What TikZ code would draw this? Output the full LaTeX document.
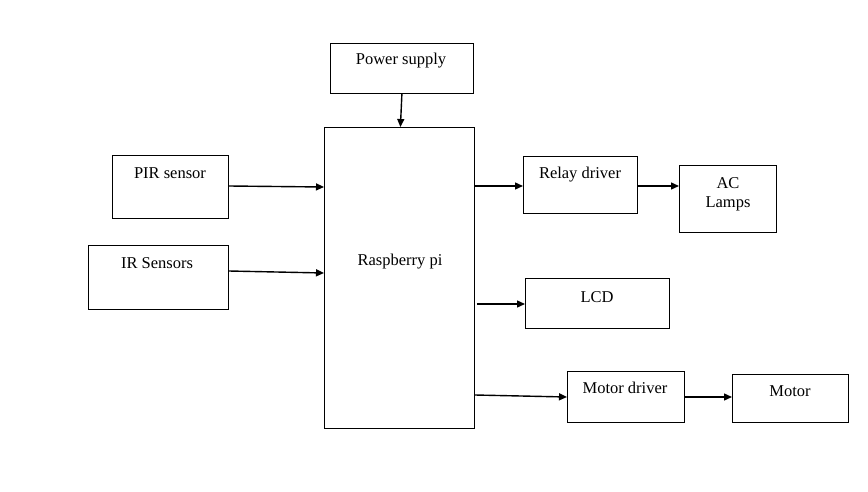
\documentclass[tikz,border=0pt]{standalone}
\usepackage{fontspec}
\setmainfont{Liberation Serif}
\usetikzlibrary{arrows.meta}
\begin{document}
\begin{tikzpicture}[x=1pt,y=-1pt,
  blk/.style={draw,line width=0.8pt,inner sep=0pt,anchor=north west},
  txt/.style={font=\fontsize{16.5}{19}\selectfont,align=center},
  arr/.style={line width=1.4pt,-{Triangle[length=8pt,width=7pt]}}]
\useasboundingbox (0,0) rectangle (868,492);
\node[blk,minimum width=143pt,minimum height=50pt] (ps) at (330,43) {};
\node[txt] at (401,61) {Power supply};
\node[blk,minimum width=150pt,minimum height=301pt] (rp) at (324,127) {};
\node[txt] at (400,262) {Raspberry pi};
\node[blk,minimum width=116pt,minimum height=63pt] (pir) at (112,155) {};
\node[txt] at (170,173) {PIR sensor};
\node[blk,minimum width=140pt,minimum height=64pt] (ir) at (88,245) {};
\node[txt] at (157,263) {IR Sensors};
\node[blk,minimum width=114pt,minimum height=57pt] (rd) at (523,156) {};
\node[txt] at (580,175) {Relay driver};
\node[blk,minimum width=97pt,minimum height=67pt] (ac) at (679,165) {};
\node[txt] at (728,194) {AC\\Lamps};
\node[blk,minimum width=144pt,minimum height=50pt] (lcd) at (525,278) {};
\node[txt] at (597,297) {LCD};
\node[blk,minimum width=117pt,minimum height=51pt] (md) at (567,371) {};
\node[txt] at (625,388) {Motor driver};
\node[blk,minimum width=116pt,minimum height=48pt] (mo) at (732,374) {};
\node[txt] at (790,391) {Motor};
\draw[arr] (ps.south) -- ([xshift=1pt]rp.north);
\draw[arr] (pir.north east |- 0,186) -- (rp.north west |- 0,187);
\draw[arr] (ir.north east |- 0,271) -- (rp.north west |- 0,273);
\draw[arr] (rp.north east |- 0,186) -- (rd.north west |- 0,186);
\draw[arr] (rd.north east |- 0,186) -- (ac.north west |- 0,186);
\draw[arr] ([xshift=2pt]rp.north east |- 0,304) -- (lcd.north west |- 0,304);
\draw[arr] (rp.north east |- 0,395) -- (md.north west |- 0,397);
\draw[arr] (md.north east |- 0,397) -- (mo.north west |- 0,397);
\end{tikzpicture}
\end{document}
